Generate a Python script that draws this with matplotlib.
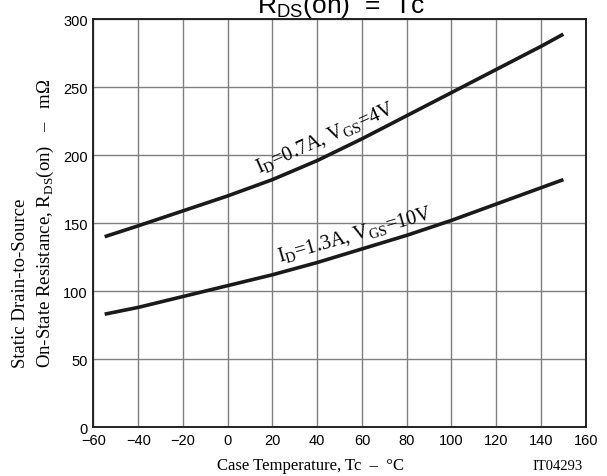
import matplotlib
matplotlib.use("Agg")
import matplotlib.pyplot as plt

# RDS(on) vs case temperature
temp = [-55, -40, -20, 0, 20, 40, 60, 80, 100, 120, 140, 150]
rds_07a = [140, 148, 159, 170, 182, 196, 212, 229, 246, 263, 280, 289]
rds_13a = [83, 88, 96, 104, 112, 121, 131, 141, 152, 164, 176, 182]

xticks = list(range(-60, 161, 20))
yticks = list(range(0, 301, 50))

plt.rcParams['font.family'] = ['Liberation Sans', 'DejaVu Sans']
plt.rcParams['mathtext.fontset'] = 'custom'
plt.rcParams['mathtext.rm'] = 'Liberation Serif'
plt.rcParams['mathtext.sf'] = 'Liberation Sans'

fig = plt.figure(figsize=(6.07, 4.77), dpi=100)
ax = fig.add_axes([0.154, 0.1027, 0.811, 0.855])

ax.plot(temp, rds_07a, color='#1a1a1a', lw=2.6, solid_capstyle='butt')
ax.plot(temp, rds_13a, color='#1a1a1a', lw=2.6, solid_capstyle='butt')

ax.set_xlim(-60, 160)
ax.set_ylim(0, 300)
ax.set_xticks(xticks)
ax.set_yticks(yticks)
ax.grid(True, color='#7f7f7f', lw=1.0)
ax.tick_params(length=0, pad=4, labelsize=10.5)
for s in ax.spines.values():
    s.set_linewidth(1.4)
    s.set_color('#222222')

serif = 'Liberation Serif'
ax.text(43.5, 213, r'I$_{\rm D}$=0.7A, V$_{\rm GS}$=4V', family=serif, fontsize=14.5,
        rotation=24, ha='center', va='center')
ax.text(57, 142, r'I$_{\rm D}$=1.3A, V$_{\rm GS}$=10V', family=serif, fontsize=14.5,
        rotation=16, ha='center', va='center')

fig.text(0.511, 0.023, 'Case Temperature, Tc  \u2013  \u00b0C', family=serif, fontsize=12,
         ha='center', va='center')

fig.text(0.034, 0.229, 'Static Drain-to-Source', family=serif, fontsize=13.5,
         rotation=90, ha='center', va='bottom')
fig.text(0.075, 0.229, 'On-State Resistance, R$_{\\rm DS}$(on)   \u2013   m\u03a9',
         family=serif, fontsize=13.5, rotation=90, ha='center', va='bottom')

fig.text(0.562, 0.973, r'R$_\mathsf{DS}$(on)  =  Tc', fontsize=19, ha='center', va='baseline')
fig.text(0.96, 0.021, 'IT04293', family=serif, fontsize=10.5, ha='right', va='center')

fig.savefig('out.png', dpi=100)
